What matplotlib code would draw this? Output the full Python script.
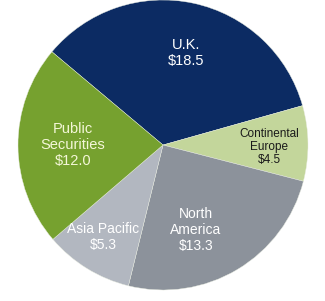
import matplotlib
matplotlib.use("Agg")
import matplotlib.pyplot as plt

categories = ["U.K.", "Continental\nEurope", "North\nAmerica", "Asia Pacific", "Public\nSecurities"]
values = [18.5, 4.5, 13.3, 5.3, 12.0]
colors = ["#0c2b63", "#c3d69b", "#8c929b", "#b2b7c0", "#76a12f"]
text_colors = ["white", "#1a1a1a", "white", "white", "#f4f7d8"]
font_sizes = [10.5, 8.5, 10, 10, 10.5]
# label positions in pixel coords (x, y from top)
label_pos = [(186, 53), (269, 147), (196, 230), (103, 237), (73, 145)]

plt.rcParams['font.family'] = ['Liberation Sans Narrow', 'Liberation Sans', 'DejaVu Sans']

W, H = 325, 301
fig = plt.figure(figsize=(W / 100, H / 100), dpi=100)
ax = fig.add_axes([0, 0, 1, 1])

# y axis is inverted, so a data-space counter-clockwise sweep is visually clockwise
wedges, _ = ax.pie(values, colors=colors, startangle=-140, counterclock=True,
                   center=(163, 145), radius=145, frame=True,
                   wedgeprops=dict(linewidth=0.3, edgecolor="#e8ece0"))
ax.set_xlim(0, W)
ax.set_ylim(H, 0)
ax.set_aspect('equal')
ax.axis('off')

for cat, v, (x, y), tc, fs in zip(categories, values, label_pos, text_colors, font_sizes):
    ax.text(x, y, f"{cat}\n${v:.1f}", ha='center', va='center', color=tc,
            fontsize=fs, linespacing=1.15)

fig.savefig("out.png", dpi=100)
